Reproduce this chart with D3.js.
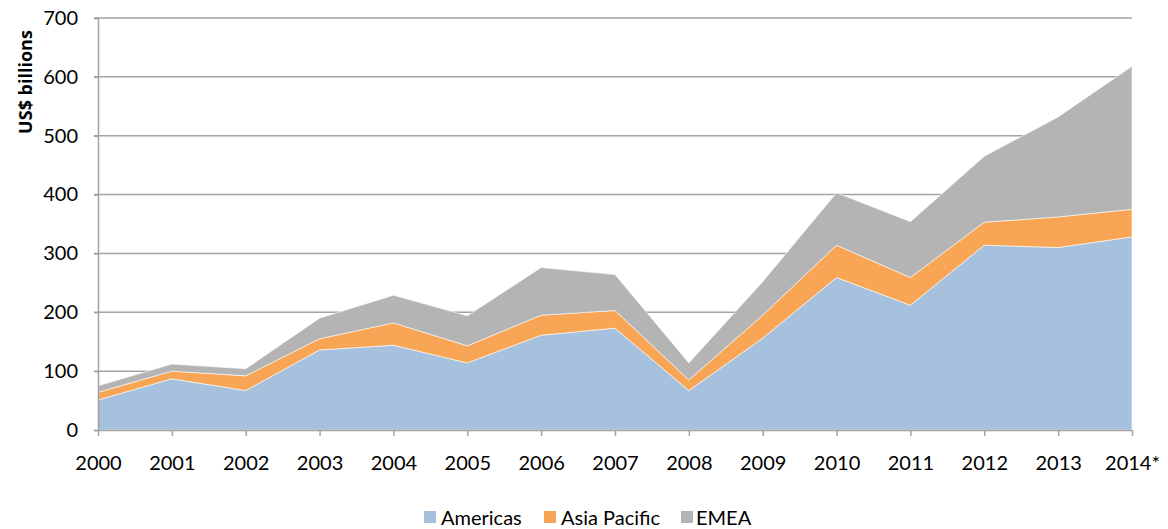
<!DOCTYPE html>
<html>
<head>
<meta charset="utf-8">
<script src="https://cdn.jsdelivr.net/npm/d3@7"></script>
<style>
  body { margin: 0; background: #fff; }
  svg text { font-family: Lato, "Open Sans", sans-serif; fill: #000; }
</style>
</head>
<body>
<div id="chart"></div>
<script>
// values, US$ billions
var years = ["2000","2001","2002","2003","2004","2005","2006","2007","2008","2009","2010","2011","2012","2013","2014*"];
var americas = [51, 87, 67, 136, 144, 114, 161, 173, 67, 156, 259, 212, 314, 310, 328];
var asiaPacific = [13, 13, 25, 19, 38, 29, 34, 30, 18, 39, 55, 47, 39, 52, 47];
var emea = [11, 12, 12, 35, 47, 51, 81, 61, 29, 57, 89, 95, 112, 170, 243];
var seriesNames = ["Americas", "Asia Pacific", "EMEA"];
var colors = ["#a5c1de", "#f8a656", "#b4b4b4"];
var yTicks = [0, 100, 200, 300, 400, 500, 600, 700];

var W = 1168, H = 529;
var margin = {left: 98, right: 36, top: 18, bottom: 99};

var svg = d3.select("#chart").append("svg")
  .attr("width", W)
  .attr("height", H);

var x = d3.scalePoint()
  .domain(years)
  .range([margin.left, W - margin.right]);

var y = d3.scaleLinear()
  .domain([0, 700])
  .range([H - margin.bottom, margin.top]);

var table = years.map(function(yr, i) {
  return {year: yr, "Americas": americas[i], "Asia Pacific": asiaPacific[i], "EMEA": emea[i]};
});

var layers = d3.stack().keys(seriesNames)(table);

// gridlines
svg.append("g")
  .selectAll("line")
  .data(yTicks.slice(1))
  .enter().append("line")
  .attr("x1", margin.left - 4)
  .attr("x2", W - margin.right)
  .attr("y1", d => y(d))
  .attr("y2", d => y(d))
  .attr("stroke", "#a3a3a3")
  .attr("stroke-width", 1.5);

var area = d3.area()
  .x(d => x(d.data.year))
  .y0(d => y(d[0]))
  .y1(d => y(d[1]));

svg.append("g")
  .selectAll("path")
  .data(layers)
  .enter().append("path")
  .attr("d", area)
  .attr("fill", (d, i) => colors[i])
  .attr("stroke", "#fff")
  .attr("stroke-width", 0.6);

// y axis
var yAxis = svg.append("g")
  .attr("transform", "translate(" + margin.left + ",0)")
  .call(d3.axisLeft(y).tickValues(yTicks).tickSize(4).tickPadding(16));
yAxis.select(".domain").attr("stroke", "#a3a3a3").attr("stroke-width", 1.5);
yAxis.selectAll(".tick line").attr("stroke", "#a3a3a3").attr("stroke-width", 1.5);
yAxis.selectAll("text").style("font-size", "20px");

// x axis
var xAxis = svg.append("g")
  .attr("transform", "translate(0," + y(0) + ")")
  .call(d3.axisBottom(x).tickSize(6).tickSizeOuter(0).tickPadding(20));
xAxis.select(".domain").attr("stroke", "#a3a3a3").attr("stroke-width", 1.5);
xAxis.selectAll(".tick line").attr("stroke", "#a3a3a3").attr("stroke-width", 1.5);
xAxis.selectAll("text").style("font-size", "20px");

svg.append("text")
  .attr("transform", "translate(32,82) rotate(-90)")
  .attr("text-anchor", "middle")
  .style("font-family", "'Open Sans', sans-serif")
  .style("font-size", "18px")
  .style("font-weight", "bold")
  .text("US$ billions");

// legend
var legendX = [424, 544, 681];
var legend = svg.append("g").selectAll("g")
  .data(seriesNames)
  .enter().append("g")
  .attr("transform", (d, i) => "translate(" + legendX[i] + ",511)");
legend.append("rect")
  .attr("width", 12)
  .attr("height", 12)
  .attr("fill", (d, i) => colors[i]);
legend.append("text")
  .attr("x", (d, i) => i == 2 ? 15 : 17)
  .attr("y", 14)
  .style("font-size", "20px")
  .text(d => d);
</script>
</body>
</html>
